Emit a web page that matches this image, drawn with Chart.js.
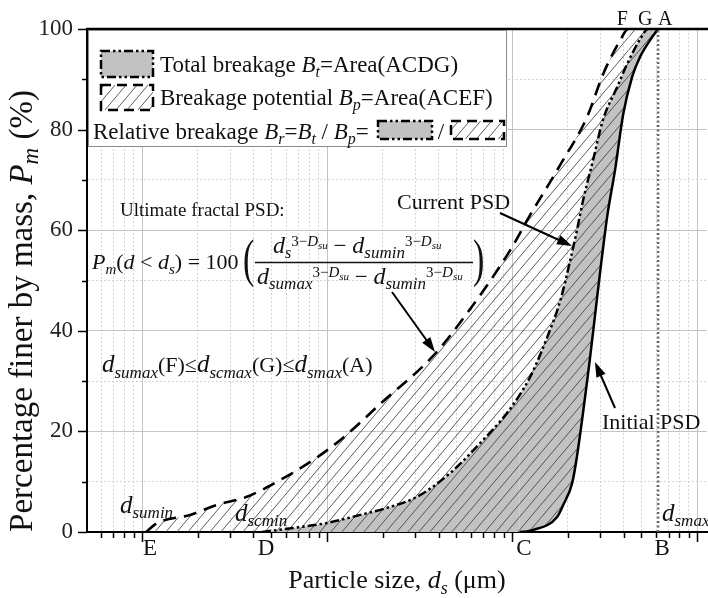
<!DOCTYPE html>
<html>
<head>
<meta charset="utf-8">
<script src="https://cdn.jsdelivr.net/npm/chart.js@4.4.0/dist/chart.umd.min.js"></script>
<style>
  html, body { margin: 0; padding: 0; background: #fff; }
</style>
</head>
<body>
<canvas id="psdChart" width="708" height="598"></canvas>
<script>
// particle size (arbitrary log units) vs. percentage finer
var ultimateSize = [0.0105, 0.0121, 0.0182, 0.0254, 0.0369, 0.0537, 0.084, 0.118, 0.201, 0.374, 0.571, 0.975, 1.25, 1.60, 1.82, 2.54, 3.10, 3.84, 4.24];
var ultimatePass = [0, 1.8, 3.4, 5.4, 7, 10, 14.3, 18.3, 26, 35, 43.5, 56, 63, 69.5, 73, 82.5, 91, 97.8, 100];

var currentSize = [0.0445, 0.0655, 0.100, 0.151, 0.211, 0.306, 0.462, 0.697, 0.94, 1.25, 1.55, 1.82, 2.06, 2.24, 2.42, 2.74, 3.10, 3.70, 4.18, 4.92, 5.43];
var currentPass = [0, 0.8, 1.8, 3.4, 4.8, 7, 11.7, 18.3, 23.7, 30.8, 38.8, 46, 54, 60, 66, 74, 82, 88.5, 93, 98, 100];

var initialSize = [1.10, 1.30, 1.75, 1.89, 2.11, 2.24, 2.64, 2.88, 3.26, 3.60, 3.98, 4.45, 4.92, 5.57, 6.15];
var initialPass = [0, 0.4, 3, 5.4, 9.7, 15, 34.8, 46.7, 62.6, 72, 83, 90.5, 94.5, 97.8, 100];

var dSmax = 6.15;

// letters on the x axis and on the top edge
var bottomLetters = ["E", "D", "C", "B"];
var bottomLetterAt = [ultimateSize[0], currentSize[0], initialSize[0], dSmax];
var topLetters = ["F", "G", "A"];
var topLetterAt = [ultimateSize[ultimateSize.length - 1], currentSize[currentSize.length - 1], dSmax];

var yTickStep = 10;
var xMin = 0.00504, xMax = 11.3;

var xTicks = [];
[0.001, 0.01, 0.1, 1, 10].forEach(function (dec) {
    for (var k = 1; k <= 9; k++) {
        var v = +(dec * k).toPrecision(3);
        if (v >= xMin && v <= xMax) xTicks.push(v);
    }
});

function isMajorX(v) {
    var l = Math.log10(v);
    return Math.abs(l - Math.round(l)) < 1e-6;
}

function toPoints(xs, ys) {
    return xs.map(function (x, i) { return { x: x, y: ys[i] }; });
}

var SERIF = '"Liberation Serif", "Times New Roman", serif';
var canvas = document.getElementById("psdChart");
var ctx = canvas.getContext("2d");

function makeHatch() {
    var w = 11, h = 13;
    var c = document.createElement("canvas");
    c.width = w; c.height = h;
    var g = c.getContext("2d");
    g.strokeStyle = "#404040";
    g.lineWidth = 0.85;
    g.beginPath();
    for (var k = -1; k <= 1; k++) {
        g.moveTo(k * w, h);
        g.lineTo((k + 1) * w, 0);
    }
    g.stroke();
    return ctx.createPattern(c, "repeat");
}
var hatch = makeHatch();
var GREY = "#c2c2c2";
var DASH_DOT = [9, 3, 2.5, 3, 2.5, 3];
var DASH = [13, 8];

// initial curve gets an invisible run along the axis so the fills close down to the axis
var initialPts = [{ x: ultimateSize[0], y: 0 }].concat(toPoints(initialSize, initialPass));
var currentPts = toPoints(currentSize, currentPass).concat([{ x: dSmax, y: 100 }]);
var ultimatePts = toPoints(ultimateSize, ultimatePass).concat([{ x: dSmax, y: 100 }]);

function hideSegment(idx) {
    return function (c) { return c.p1DataIndex === idx ? "rgba(0,0,0,0)" : undefined; };
}

// text helpers
function T(t, s, dy) { return { t: t, s: s, dy: dy || 0 }; }
function I(t, s, dy) { return { t: t, s: s, dy: dy || 0, i: true }; }
function fontOf(p) { return (p.i ? "italic " : "") + p.s + "px " + SERIF; }
function drawRich(c, x, y, parts, align) {
    var total = 0;
    parts.forEach(function (p) { c.font = fontOf(p); p.w = c.measureText(p.t).width; total += p.w; });
    var cx = align === "center" ? x - total / 2 : (align === "right" ? x - total : x);
    c.textAlign = "left";
    c.textBaseline = "alphabetic";
    parts.forEach(function (p) { c.font = fontOf(p); c.fillText(p.t, cx, y + p.dy); cx += p.w; });
    return cx;
}
function tallParen(c, ch, x, y) {
    // a thin bracket stretched vertically, like a math delimiter
    c.save();
    c.translate(x, y);
    c.scale(1, 1.55);
    c.font = "34px " + SERIF;
    c.textAlign = "left";
    c.textBaseline = "alphabetic";
    c.fillText(ch, 0, 0);
    c.restore();
}
function arrow(c, x1, y1, x2, y2) {
    var a = Math.atan2(y2 - y1, x2 - x1), L = 15, W = 5;
    c.save();
    c.strokeStyle = "#000"; c.fillStyle = "#000"; c.lineWidth = 2; c.setLineDash([]);
    c.beginPath(); c.moveTo(x1, y1); c.lineTo(x2 - L * 0.8 * Math.cos(a), y2 - L * 0.8 * Math.sin(a)); c.stroke();
    c.beginPath();
    c.moveTo(x2, y2);
    c.lineTo(x2 - L * Math.cos(a) + W * Math.sin(a), y2 - L * Math.sin(a) - W * Math.cos(a));
    c.lineTo(x2 - L * Math.cos(a) - W * Math.sin(a), y2 - L * Math.sin(a) + W * Math.cos(a));
    c.closePath(); c.fill();
    c.restore();
}
function swatch(c, x, y, w, h, fill, dash) {
    c.save();
    c.fillStyle = fill; c.fillRect(x, y, w, h);
    c.strokeStyle = "#000"; c.lineWidth = 2.5; c.setLineDash(dash);
    c.strokeRect(x, y, w, h);
    c.restore();
}

var supParts = function (s) { return [T("3−", s, -7), I("D", s, -7), I("su", s - 4, -4)]; };

var decor = {
    id: "decor",
    afterDraw: function (chart) {
        var c = chart.ctx, a = chart.chartArea;
        var xs = chart.scales.x, ys = chart.scales.y;
        c.save();
        // top edge
        c.strokeStyle = "#000"; c.lineWidth = 2.5;
        c.beginPath(); c.moveTo(a.left - 1, a.top); c.lineTo(a.right + 2, a.top); c.stroke();
        // tick marks
        c.lineWidth = 1.5;
        xTicks.forEach(function (v) {
            var px = Math.round(xs.getPixelForValue(v)) + 0.5;
            c.beginPath(); c.moveTo(px, a.bottom); c.lineTo(px, a.bottom + (isMajorX(v) ? 10 : 6)); c.stroke();
        });
        for (var v = 0; v <= 100; v += yTickStep) {
            var py = Math.round(ys.getPixelForValue(v)) + 0.5;
            c.beginPath(); c.moveTo(a.left, py); c.lineTo(a.left - (v % 20 === 0 ? 9 : 5), py); c.stroke();
        }

        c.fillStyle = "#111";
        // letters
        bottomLetters.forEach(function (t, i) {
            drawRich(c, xs.getPixelForValue(bottomLetterAt[i]) + 4, a.bottom + 23, [T(t, 23)], "center");
        });
        var topOff = [-6, -3, 7];
        topLetters.forEach(function (t, i) {
            drawRich(c, xs.getPixelForValue(topLetterAt[i]) + topOff[i], 25, [T(t, 20)], "center");
        });

        // legend box
        c.fillStyle = "#fff";
        c.fillRect(89, 31, 417, 115);
        c.strokeStyle = "#8a8a8a"; c.lineWidth = 1;
        c.strokeRect(88.5, 30.5, 418, 116);
        swatch(c, 101, 51, 52, 26, GREY, DASH_DOT);
        swatch(c, 101, 85, 52, 25, hatch, [10, 6]);
        swatch(c, 378, 121, 54, 18, GREY, DASH_DOT);
        swatch(c, 451, 121, 53, 18, hatch, [10, 6]);
        c.fillStyle = "#111";
        drawRich(c, 160, 72, [T("Total breakage ", 23), I("B", 23), I("t", 16, 5), T("=Area(ACDG)", 23)]);
        drawRich(c, 160, 105, [T("Breakage potential ", 23), I("B", 23), I("p", 16, 5), T("=Area(ACEF)", 23)]);
        drawRich(c, 93, 139, [T("Relative breakage ", 23), I("B", 23), I("r", 16, 5), T("=", 23), I("B", 23), I("t", 16, 5),
            T(" / ", 23), I("B", 23), I("p", 16, 5), T("=", 23)]);
        drawRich(c, 441, 139, [T("/", 23)], "center");

        // formula
        drawRich(c, 120, 216, [T("Ultimate fractal PSD:", 19)]);
        drawRich(c, 92, 269, [I("P", 22), I("m", 15, 5), T("(", 22), I("d", 22), T(" < ", 22), I("d", 22), I("s", 15, 5), T(") = 100", 22)]);
        tallParen(c, "(", 243, 276);
        tallParen(c, ")", 473, 276);
        drawRich(c, 273, 253, [I("d", 24), I("s", 16, 5)].concat(supParts(15), [T(" − ", 23), I("d", 24), I("sumin", 17, 5)], supParts(15)));
        drawRich(c, 257, 284, [I("d", 24), I("sumax", 17, 5)].concat(supParts(15), [T(" − ", 23), I("d", 24), I("sumin", 17, 5)], supParts(15)));
        c.strokeStyle = "#111"; c.lineWidth = 1.5;
        c.beginPath(); c.moveTo(255, 262.5); c.lineTo(473, 262.5); c.stroke();

        drawRich(c, 102, 372, [I("d", 25), I("sumax", 17, 6), T("(F)≤", 22), I("d", 25), I("scmax", 17, 6), T("(G)≤", 22),
            I("d", 25), I("smax", 17, 6), T("(A)", 22)]);

        drawRich(c, 397, 209, [T("Current PSD", 22)]);
        drawRich(c, 602, 429, [T("Initial PSD", 22)]);
        drawRich(c, 120, 513, [I("d", 25), I("sumin", 17, 5)]);
        drawRich(c, 235, 521, [I("d", 25), I("scmin", 17, 5)]);
        drawRich(c, 662, 521, [I("d", 25), I("smax", 17, 5)]);

        arrow(c, 500, 213, 572, 246);
        arrow(c, 392, 292, 435, 352);
        arrow(c, 615, 408, 595, 362);

        // axis titles
        drawRich(c, 397, 588, [T("Particle size, ", 26), I("d", 26), I("s", 18, 6), T(" (μm)", 26)], "center");
        c.save();
        c.translate(32, 311);
        c.rotate(-Math.PI / 2);
        drawRich(c, 0, 0, [T("Percentage finer by mass, ", 33), I("P", 33), I("m", 23, 6), T(" (%)", 33)], "center");
        c.restore();
        c.restore();
    }
};

new Chart(ctx, {
    type: "line",
    data: {
        datasets: [
            {
                label: "Initial PSD",
                data: initialPts,
                borderColor: "#000",
                borderWidth: 2.5,
                cubicInterpolationMode: "monotone",
                fill: false,
                order: 1,
                segment: { borderColor: hideSegment(1) },
            },
            {
                label: "Current PSD",
                data: currentPts,
                borderColor: "#000",
                borderWidth: 2.5,
                borderDash: DASH_DOT,
                cubicInterpolationMode: "monotone",
                backgroundColor: GREY,
                fill: 0,
                order: 3,
                segment: { borderColor: hideSegment(currentPts.length - 1) },
            },
            {
                label: "Ultimate fractal PSD",
                data: ultimatePts,
                borderColor: "#000",
                borderWidth: 2.6,
                borderDash: DASH,
                cubicInterpolationMode: "monotone",
                backgroundColor: hatch,
                fill: 0,
                order: 2,
                segment: { borderColor: hideSegment(ultimatePts.length - 1) },
            },
            {
                label: "d_smax",
                data: [{ x: dSmax, y: 0 }, { x: dSmax, y: 100 }],
                borderColor: "#666",
                borderWidth: 2.5,
                borderDash: [2, 2.5],
                fill: false,
                order: 0,
            },
        ],
    },
    options: {
        responsive: false,
        animation: false,
        layout: { padding: { left: 27, right: 1, top: 29, bottom: 66 } },
        elements: { point: { radius: 0, hoverRadius: 0 } },
        plugins: {
            legend: { display: false },
            tooltip: { enabled: false },
            filler: { drawTime: "beforeDatasetsDraw" },
        },
        scales: {
            x: {
                type: "logarithmic",
                min: xMin,
                max: xMax,
                afterBuildTicks: function (s) {
                    s.ticks = xTicks.map(function (v) { return { value: v }; });
                },
                afterFit: function (s) { s.height = 0; },
                ticks: { display: false },
                grid: {
                    drawTicks: false,
                    lineWidth: 1,
                    color: function (c) {
                        if (!c.tick) return "#ccc";
                        return isMajorX(c.tick.value) ? "#c4c4c4" : "#d4d4d4";
                    },
                },
                border: {
                    color: "#000",
                    width: 2,
                    dash: function (c) {
                        if (!c.tick) return [];
                        return isMajorX(c.tick.value) ? [] : [2, 2];
                    },
                },
            },
            y: {
                min: 0,
                max: 100,
                afterFit: function (s) { s.width = 60; },
                ticks: {
                    stepSize: yTickStep,
                    padding: 14,
                    color: "#222",
                    font: { family: SERIF, size: 23 },
                    callback: function (v) { return v % 20 === 0 ? v : ""; },
                },
                grid: {
                    drawTicks: false,
                    lineWidth: 1,
                    color: function (c) {
                        if (!c.tick) return "#ccc";
                        var v = c.tick.value;
                        if (v === 0 || v === 100) return "rgba(0,0,0,0)";
                        return v % 20 === 0 ? "#c4c4c4" : "#d4d4d4";
                    },
                },
                border: {
                    color: "#000",
                    width: 2,
                    dash: function (c) {
                        if (!c.tick) return [];
                        return c.tick.value % 20 === 0 ? [] : [2, 2];
                    },
                },
            },
        },
    },
    plugins: [decor],
});
</script>
</body>
</html>
